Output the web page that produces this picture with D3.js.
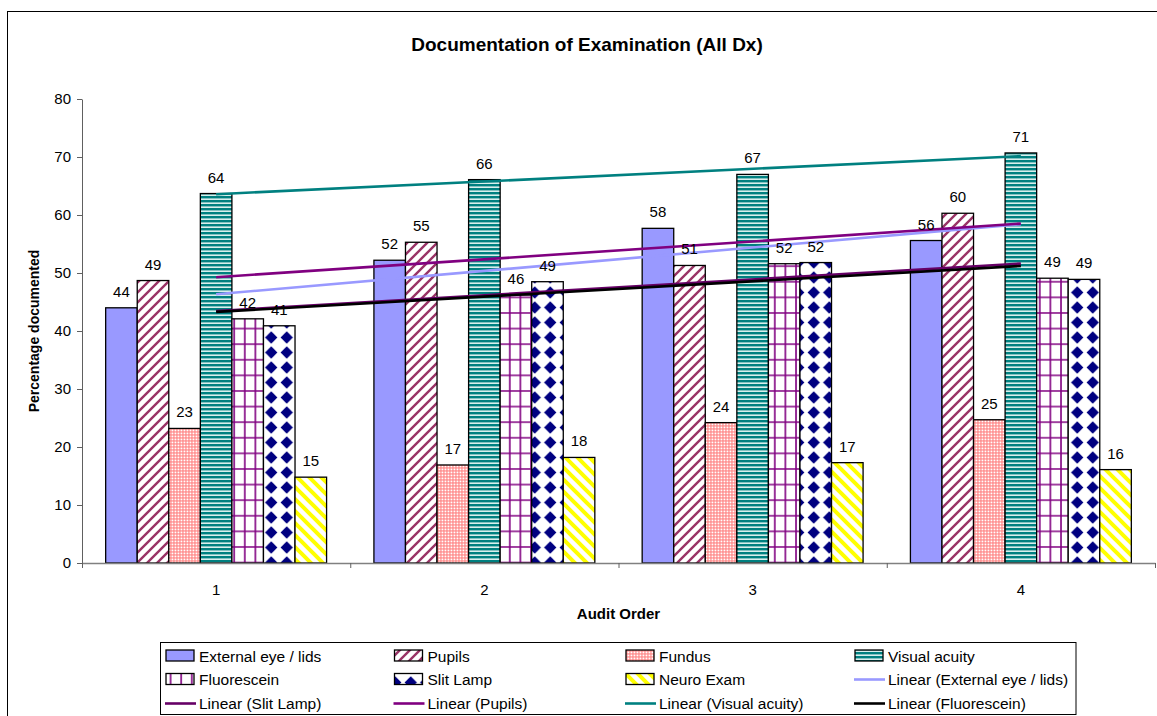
<!DOCTYPE html>
<html>
<head>
<meta charset="utf-8">
<script src="https://cdn.jsdelivr.net/npm/d3@7"></script>
<style>
  html, body { margin: 0; padding: 0; background: #fff; }
  svg { display: block; font-family: "Liberation Sans", Arial, sans-serif; }
</style>
</head>
<body>
<svg id="chart" width="1157" height="716"></svg>
<script>
// Audit rounds on the x axis
const categories = ["1", "2", "3", "4"];

// Percentage of records documenting each examination, per audit round
const externalEye   = [44.0, 52.2, 57.7, 55.6];
const pupils        = [48.7, 55.3, 51.3, 60.3];
const fundus        = [23.2, 16.9, 24.2, 24.7];
const visualAcuity  = [63.7, 66.1, 67.0, 70.7];
const fluorescein   = [42.1, 46.2, 51.6, 49.1];
const slitLamp      = [40.9, 48.5, 51.8, 48.9];
const neuroExam     = [14.8, 18.2, 17.3, 16.1];

const yTicks = [0, 10, 20, 30, 40, 50, 60, 70, 80];

const series = [
  { name: "External eye / lids", values: externalEye,  fill: "pat-ext" },
  { name: "Pupils",              values: pupils,       fill: "pat-pup" },
  { name: "Fundus",              values: fundus,       fill: "pat-fun" },
  { name: "Visual acuity",       values: visualAcuity, fill: "pat-va" },
  { name: "Fluorescein",         values: fluorescein,  fill: "pat-flu" },
  { name: "Slit Lamp",           values: slitLamp,     fill: "pat-sl" },
  { name: "Neuro Exam",          values: neuroExam,    fill: "pat-neu" }
];

// Least-squares trend lines, listed in legend order
const trends = [
  { name: "Linear (External eye / lids)", values: externalEye,  color: "#9999FF" },
  { name: "Linear (Slit Lamp)",           values: slitLamp,     color: "#660066" },
  { name: "Linear (Pupils)",              values: pupils,       color: "#800080" },
  { name: "Linear (Visual acuity)",       values: visualAcuity, color: "#008080" },
  { name: "Linear (Fluorescein)",         values: fluorescein,  color: "#000000" }
];

const svg = d3.select("#chart");
const defs = svg.append("defs");

// ---- fill patterns ----
defs.append("pattern").attr("id", "pat-ext").attr("patternUnits", "userSpaceOnUse")
  .attr("width", 4).attr("height", 4)
  .append("rect").attr("width", 4).attr("height", 4).attr("fill", "#9999FF");

// wide upward diagonal, plum
(function () {
  const p = defs.append("pattern").attr("id", "pat-pup").attr("patternUnits", "userSpaceOnUse")
    .attr("width", 10).attr("height", 10);
  p.append("rect").attr("width", 10).attr("height", 10).attr("fill", "#fff");
  p.append("path").attr("d", "M-2,12 L12,-2 M-2,2 L2,-2 M8,12 L12,8")
    .attr("stroke", "#993366").attr("stroke-width", 2.4);
})();

// small checker, salmon
(function () {
  const p = defs.append("pattern").attr("id", "pat-fun").attr("patternUnits", "userSpaceOnUse")
    .attr("width", 3).attr("height", 3);
  p.append("rect").attr("width", 3).attr("height", 3).attr("fill", "#FF8080");
  p.append("rect").attr("x", 0.5).attr("y", 0.5).attr("width", 1.9).attr("height", 1.9).attr("fill", "#fff");
})();

// narrow horizontal lines, teal
(function () {
  const p = defs.append("pattern").attr("id", "pat-va").attr("patternUnits", "userSpaceOnUse")
    .attr("width", 4).attr("height", 4);
  p.append("rect").attr("width", 4).attr("height", 4).attr("fill", "#d8efec");
  p.append("rect").attr("y", 0).attr("width", 4).attr("height", 2.4).attr("fill", "#008080");
})();

// large grid, purple
(function () {
  const p = defs.append("pattern").attr("id", "pat-flu").attr("patternUnits", "userSpaceOnUse")
    .attr("width", 10.6).attr("height", 15.6);
  p.append("rect").attr("width", 10.6).attr("height", 15.6).attr("fill", "#fff");
  p.append("path").attr("d", "M1,0 V15.6 M0,1 H10.6")
    .attr("stroke", "#800080").attr("stroke-width", 1.6);
})();

// diamonds, navy
(function () {
  const p = defs.append("pattern").attr("id", "pat-sl").attr("patternUnits", "userSpaceOnUse")
    .attr("width", 15.5).attr("height", 15);
  p.append("rect").attr("width", 15.5).attr("height", 15).attr("fill", "#fff");
  p.append("path").attr("d", "M7.75,1.3 L13.9,7.5 L7.75,13.7 L1.6,7.5 Z").attr("fill", "#000080");
})();

// wide downward diagonal, yellow
(function () {
  const p = defs.append("pattern").attr("id", "pat-neu").attr("patternUnits", "userSpaceOnUse")
    .attr("width", 12).attr("height", 12);
  p.append("rect").attr("width", 12).attr("height", 12).attr("fill", "#fff");
  p.append("path").attr("d", "M-2,-2 L14,14 M-2,10 L2,14 M10,-2 L14,2")
    .attr("stroke", "#FFFF00").attr("stroke-width", 4);
})();

// ---- outer chart frame ----
svg.append("rect").attr("x", 7.5).attr("y", 11.5).attr("width", 1200).attr("height", 760)
  .attr("fill", "none").attr("stroke", "#000").attr("stroke-width", 1);

// ---- title ----
svg.append("text").attr("x", 587).attr("y", 51).attr("text-anchor", "middle")
  .attr("font-size", 19).attr("font-weight", "bold").text("Documentation of Examination (All Dx)");

// ---- scales ----
const plot = { left: 82, right: 1155, top: 99, bottom: 563 };
const x = d3.scaleBand().domain(categories).range([plot.left, plot.right]).padding(0);
const xs = d3.scaleBand().domain(series.map(s => s.name)).range([0, x.bandwidth()])
  .paddingInner(0).paddingOuter(0.75);
const y = d3.scaleLinear().domain([0, 80]).range([plot.bottom, plot.top]);
const xPos = d3.scaleLinear().domain([0.5, categories.length + 0.5]).range([plot.left, plot.right]);

// ---- bars ----
const barG = svg.append("g");
series.forEach(s => {
  barG.append("g").selectAll("rect").data(s.values).join("rect")
    .attr("x", (d, i) => x(categories[i]) + xs(s.name))
    .attr("y", d => y(d))
    .attr("width", xs.bandwidth())
    .attr("height", d => y(0) - y(d))
    .attr("fill", `url(#${s.fill})`)
    .attr("stroke", "#000").attr("stroke-width", 1.3);
});

// ---- axes ----
const yAxis = svg.append("g").attr("transform", `translate(${plot.left},0)`)
  .call(d3.axisLeft(y).tickValues(yTicks).tickSize(5).tickPadding(6).tickSizeOuter(0));
yAxis.select(".domain").attr("stroke", "#606060");
yAxis.selectAll(".tick line").attr("stroke", "#606060");
yAxis.selectAll("text").attr("font-size", 15).attr("fill", "#000")
  .attr("font-family", "Liberation Sans, Arial, sans-serif");

const xTickAxis = svg.append("g").attr("transform", `translate(0,${plot.bottom})`)
  .call(d3.axisBottom(xPos).tickValues(d3.range(0.5, categories.length + 1, 1))
    .tickSize(5).tickFormat("").tickSizeOuter(0));
xTickAxis.select(".domain").attr("stroke", "#808080").attr("stroke-width", 1.5);
xTickAxis.selectAll(".tick line").attr("stroke", "#606060");

const xLabelAxis = svg.append("g").attr("transform", `translate(0,${plot.bottom})`)
  .call(d3.axisBottom(x).tickSize(0).tickPadding(21));
xLabelAxis.select(".domain").remove();
xLabelAxis.selectAll("text").attr("font-size", 15).attr("fill", "#000")
  .attr("font-family", "Liberation Sans, Arial, sans-serif");

// ---- trend lines ----
function linearFit(vals) {
  const n = vals.length;
  const xsv = vals.map((_, i) => i + 1);
  const mx = d3.mean(xsv), my = d3.mean(vals);
  const b = d3.sum(xsv.map((xv, i) => (xv - mx) * (vals[i] - my))) / d3.sum(xsv.map(xv => (xv - mx) ** 2));
  const a = my - b * mx;
  return [[1, a + b], [n, a + b * n]];
}
const line = d3.line().x(d => xPos(d[0])).y(d => y(d[1]));
trends.forEach(t => {
  svg.append("path").datum(linearFit(t.values)).attr("d", line)
    .attr("fill", "none").attr("stroke", t.color).attr("stroke-width", 2.6);
});

// ---- value labels ----
const labelG = svg.append("g").attr("font-size", 15).attr("text-anchor", "middle");
series.forEach(s => {
  labelG.append("g").selectAll("text").data(s.values).join("text")
    .attr("x", (d, i) => x(categories[i]) + xs(s.name) + xs.bandwidth() / 2)
    .attr("y", d => y(d) - 11)
    .text(d => d3.format(".0f")(d));
});

// ---- axis titles ----
svg.append("text").attr("x", (plot.left + plot.right) / 2).attr("y", 619)
  .attr("text-anchor", "middle").attr("font-size", 15).attr("font-weight", "bold").text("Audit Order");
svg.append("text").attr("transform", `translate(39,${(plot.top + plot.bottom) / 2}) rotate(-90)`)
  .attr("text-anchor", "middle").attr("font-size", 14).attr("font-weight", "bold").text("Percentage documented");

// ---- legend ----
const legend = svg.append("g");
legend.append("rect").attr("x", 160.5).attr("y", 642.5).attr("width", 915.5).attr("height", 72)
  .attr("fill", "#fff").attr("stroke", "#000").attr("stroke-width", 1);
const colX = [166, 394.5, 626, 855];
const rowY = [656, 679.5, 703.5];
const legendItems = series.map(s => ({ type: "bar", name: s.name, fill: s.fill }))
  .concat(trends.map(t => ({ type: "line", name: t.name, color: t.color })));
legendItems.forEach((it, i) => {
  const cx = colX[i % 4], cy = rowY[Math.floor(i / 4)];
  const g = legend.append("g");
  if (it.type === "bar") {
    g.append("rect").attr("x", cx).attr("y", cy - 6).attr("width", 28).attr("height", 11)
      .attr("fill", `url(#${it.fill})`).attr("stroke", "#000").attr("stroke-width", 1.3);
  } else {
    g.append("line").attr("x1", cx - 1).attr("x2", cx + 30).attr("y1", cy).attr("y2", cy)
      .attr("stroke", it.color).attr("stroke-width", 2.6);
  }
  g.append("text").attr("x", cx + 33).attr("y", cy + 5.5).attr("font-size", 15.5).text(it.name);
});
</script>
</body>
</html>
